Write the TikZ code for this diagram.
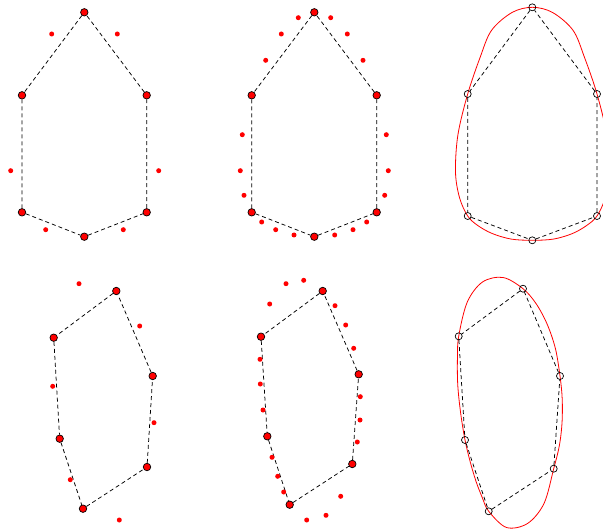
\documentclass[tikz,border=0pt]{standalone}
\begin{document}
\begin{tikzpicture}[x=1pt,y=-1pt,
  vtx/.style={circle,draw=black,fill=red,line width=0.7pt,inner sep=0pt,minimum size=7.5pt},
  sub/.style={circle,fill=red,inner sep=0pt,minimum size=5pt},
  hol/.style={circle,draw=black,line width=0.7pt,inner sep=0pt,minimum size=7pt},
  poly/.style={line width=0.75pt,dash pattern=on 4pt off 3pt},
  limitcurve/.style={red,line width=0.8pt}]
\useasboundingbox (0,0) rectangle (603,532);
\clip (0,0) rectangle (603,532);

% ---------- Panel 1 ----------
\node[vtx] (a1) at (84.3,12.3) {};
\node[vtx] (a2) at (22,95.3) {};
\node[vtx] (a3) at (22,212.3) {};
\node[vtx] (a4) at (84.3,236.7) {};
\node[vtx] (a5) at (146.7,212.3) {};
\node[vtx] (a6) at (146.7,95.3) {};
\draw[poly] (a1)--(a2)--(a3)--(a4)--(a5)--(a6)--(a1);
\foreach \p [count=\i] in {(51.7,34),(117.3,34),(10.7,170.7),(158.7,170.7),(45.7,229.7),(123.3,229.7)}
  \node[sub] (as\i) at \p {};

% ---------- Panel 2 ----------
\node[vtx] (b1) at (314.3,12.3) {};
\node[vtx] (b2) at (251.7,95.3) {};
\node[vtx] (b3) at (251.7,212.3) {};
\node[vtx] (b4) at (314.3,236.7) {};
\node[vtx] (b5) at (376.7,212.3) {};
\node[vtx] (b6) at (376.7,95.3) {};
\draw[poly] (b1)--(b2)--(b3)--(b4)--(b5)--(b6)--(b1);
\foreach \p [count=\i] in {(298.3,17.7),(330.7,17.7),(281.3,34),(347.3,34),(265.7,60.3),(363,60.3),
  (242.3,134.7),(386.3,134.7),(240.3,170.7),(388.3,170.7),(244,195.3),(384.7,195.3),
  (261.7,222),(366.7,222),(275.7,229.7),(353,229.7),(294,235),(334.7,235)}
  \node[sub] (bs\i) at \p {};

% ---------- Panel 3 ----------
\coordinate (c1) at (532.3,7.3);
\coordinate (c2) at (467.7,94);
\coordinate (c3) at (467.7,216);
\coordinate (c4) at (532.3,240.3);
\coordinate (c5) at (597,216);
\coordinate (c6) at (597,94);
\draw[limitcurve] plot[smooth cycle,tension=0.55] coordinates {
  (c1) (512,12.5) (491.5,30.4) (480,57.7)
  (c2) (457.9,134.9) (455.5,172.3) (459.6,197.9)
  (c3) (477.9,225.6) (492.4,233.6) (511.3,239.1)
  (c4) (553.4,239.1) (572.3,233.6) (586.5,225.6)
  (c5) (605.1,197.9) (608.8,172.3) (606.7,134.9)
  (c6) (584.6,57.7) (573.1,30.4) (552.6,12.5)};
\node[hol] (h1) at (c1) {};
\node[hol] (h2) at (c2) {};
\node[hol] (h3) at (c3) {};
\node[hol] (h4) at (c4) {};
\node[hol] (h5) at (c5) {};
\node[hol] (h6) at (c6) {};
\draw[poly] (h1)--(h2)--(h3)--(h4)--(h5)--(h6)--(h1);

% ---------- Panel 4 ----------
\node[vtx] (d1) at (116.3,291) {};
\node[vtx] (d2) at (53.7,337.7) {};
\node[vtx] (d3) at (59.7,438.7) {};
\node[vtx] (d4) at (83,508.7) {};
\node[vtx] (d5) at (147,467) {};
\node[vtx] (d6) at (152.7,376) {};
\draw[poly] (d1)--(d2)--(d3)--(d4)--(d5)--(d6)--(d1);
\foreach \p [count=\i] in {(79,283.7),(139.7,326),(52.7,386.3),(154,422.7),(70.3,479.7),(119.3,520)}
  \node[sub] (ds\i) at \p {};

% ---------- Panel 5 ----------
\node[vtx] (e1) at (322.7,291) {};
\node[vtx] (e2) at (261,336.7) {};
\node[vtx] (e3) at (267.3,436.3) {};
\node[vtx] (e4) at (289.7,504.7) {};
\node[vtx] (e5) at (352.3,464) {};
\node[vtx] (e6) at (358.7,374.3) {};
\draw[poly] (e1)--(e2)--(e3)--(e4)--(e5)--(e6)--(e1);
\foreach \p [count=\i] in {(303.7,280.3),(286,283.7),(269.7,304),(335,305.7),(345.7,325),(353.7,348.3),
  (260,359.3),(260.3,384),(263,410),(360.3,396.7),(360,420),(357.3,442),
  (272,457.3),(277.7,476.3),(283.7,492),(340.7,496.3),(326,515.3),(306.7,520)}
  \node[sub] (es\i) at \p {};

% ---------- Panel 6 ----------
\coordinate (f1) at (523,288.7);
\coordinate (f2) at (458.7,336.3);
\coordinate (f3) at (465,440);
\coordinate (f4) at (488.7,511.3);
\coordinate (f5) at (553.7,468.7);
\coordinate (f6) at (560,376);
\draw[limitcurve] plot[smooth cycle,tension=0.55] coordinates {
  (f1) (503.1,277.5) (482.5,282) (467.3,302)
  (f2) (457.4,359.9) (457.8,385.6) (460.6,412.7)
  (f3) (470.2,461.8) (476.1,481.6) (482.4,497.9)
  (f4) (506.5,527.5) (527.5,523.5) (544,503.5)
  (f5) (559.3,445.9) (562,423.1) (562.2,398.8)
  (f6) (555.4,348.5) (547.2,324.3) (536.2,303.8)};
\node[hol] (g1) at (f1) {};
\node[hol] (g2) at (f2) {};
\node[hol] (g3) at (f3) {};
\node[hol] (g4) at (f4) {};
\node[hol] (g5) at (f5) {};
\node[hol] (g6) at (f6) {};
\draw[poly] (g1)--(g2)--(g3)--(g4)--(g5)--(g6)--(g1);
\end{tikzpicture}
\end{document}
